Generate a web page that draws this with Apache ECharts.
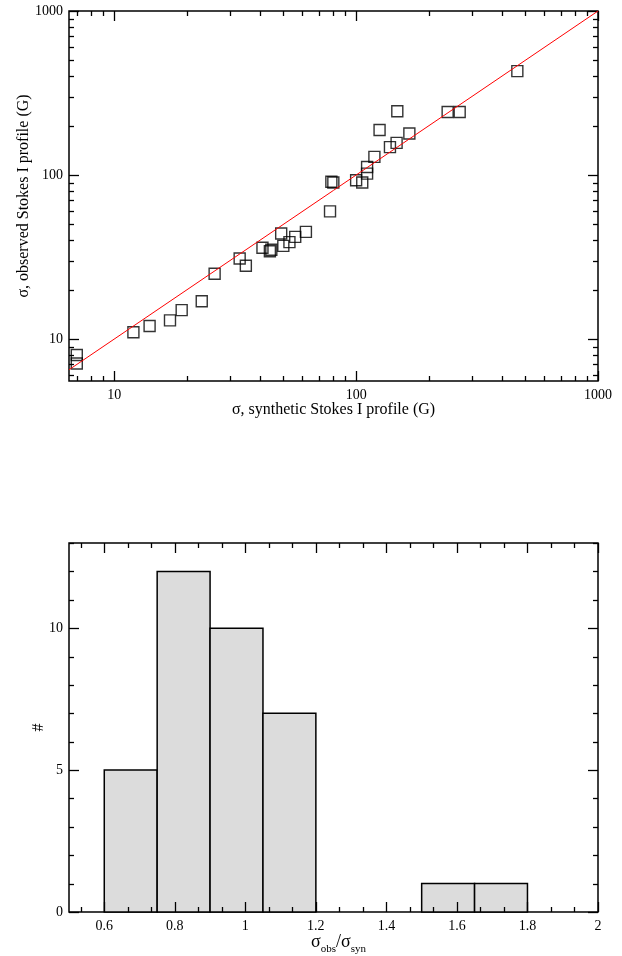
<!DOCTYPE html>
<html>
<head>
<meta charset="utf-8">
<script src="https://cdn.jsdelivr.net/npm/echarts@6/dist/echarts.min.js"></script>
<style>html,body{margin:0;padding:0;background:#fff}#c{width:622px;height:956px}</style>
</head>
<body>
<div id="c"></div>
<script>
// ---- Top panel data (log-log scatter) ----
const synSigma = [7.0, 7.0, 12.0, 14.0, 17.0, 19.0, 23.0, 26.0, 33.0, 35.0, 41.0, 44.0, 44.6, 49.0, 50.0, 53.0, 56.0, 62.0, 78.0, 79.0, 80.5, 100.0, 106.0, 111.0, 111.0, 119.0, 125.0, 138.0, 147.0, 148.0, 166.0, 239.0, 268.0, 464.0];
const obsSigma = [8.0, 7.1, 11.0, 12.0, 13.0, 15.0, 17.0, 25.0, 31.0, 28.0, 36.0, 34.3, 35.0, 44.0, 37.0, 39.0, 42.0, 45.0, 60.0, 91.0, 90.0, 93.0, 90.0, 102.0, 112.0, 129.0, 188.0, 148.0, 157.0, 245.0, 179.0, 242.0, 242.0, 430.0];
const identityLine = [6.5, 1000];
const topXRange = [6.5, 1000];
const topYRange = [5.55, 1000];
const topTickLabels = [10, 100, 1000];
const topXTicks = [7, 8, 9, 10, 20, 30, 40, 50, 60, 70, 80, 90, 100, 200, 300, 400, 500, 600, 700, 800, 900, 1000];
const topYTicks = [6, 7, 8, 9, 10, 20, 30, 40, 50, 60, 70, 80, 90, 100, 200, 300, 400, 500, 600, 700, 800, 900, 1000];

// ---- Bottom panel data (histogram) ----
const binLeft  = [0.6, 0.75, 0.9, 1.05, 1.5, 1.65];
const binRight = [0.75, 0.9, 1.05, 1.2, 1.65, 1.8];
const binCount = [5, 12, 10, 7, 1, 1];
const histXRange = [0.5, 2];
const histYRange = [0, 13];
const histXLabels = [0.6, 0.8, 1, 1.2, 1.4, 1.6, 1.8, 2];
const histYLabels = [0, 5, 10];

const FONT = '"Liberation Serif", "DejaVu Serif", serif';
const isPow10 = v => topTickLabels.some(t => Math.abs(v - t) < 1e-6 * t);
function near(v, arr) { return arr.some(t => Math.abs(v - t) < 1e-6); }

// tick data (axis decoration)
const topXTickData = topXTicks.map(v => [v, topYRange[0], isPow10(v) ? 1 : 0]);
const topYTickData = topYTicks.map(v => [topXRange[0], v, isPow10(v) ? 1 : 0]);
const histXTickData = [];
for (let i = -1; i <= 21; i++) {
  const v = 0.6 + i * 0.2 / 3;
  if (v < histXRange[0] - 1e-9 || v > histXRange[1] + 1e-9) continue;
  histXTickData.push([v, 0, (i % 3 === 0) ? 1 : 0]);
}
const histYTickData = [];
for (let v = 0; v <= 13; v++) histYTickData.push([histXRange[0], v, (v % 5 === 0) ? 1 : 0]);

const tickStyle = { stroke: '#000', lineWidth: 1.3 };

function xTickRender(params, api) {
  const cs = params.coordSys;
  const p = api.coord([api.value(0), api.value(1)]);
  const x = Math.round(p[0]) + 0.5;
  const len = api.value(2) ? 10 : 5;
  const b = cs.y + cs.height, t = cs.y;
  return { type: 'group', children: [
    { type: 'line', shape: { x1: x, y1: b, x2: x, y2: b - len }, style: tickStyle },
    { type: 'line', shape: { x1: x, y1: t, x2: x, y2: t + len }, style: tickStyle }
  ]};
}
function yTickRender(params, api) {
  const cs = params.coordSys;
  const p = api.coord([api.value(0), api.value(1)]);
  const y = Math.round(p[1]) + 0.5;
  const len = api.value(2) ? 10 : 5;
  const l = cs.x, r = cs.x + cs.width;
  return { type: 'group', children: [
    { type: 'line', shape: { x1: l, y1: y, x2: l + len, y2: y }, style: tickStyle },
    { type: 'line', shape: { x1: r, y1: y, x2: r - len, y2: y }, style: tickStyle }
  ]};
}

const axisCommon = {
  splitLine: { show: false },
  axisTick: { show: false },
  axisLine: { show: false },
  nameLocation: 'middle',
  nameMoveOverlap: false,
  nameTextStyle: { fontFamily: FONT, fontSize: 16, color: '#000' }
};

const chart = echarts.init(document.getElementById('c'), null, { renderer: 'canvas' });
chart.setOption({
  animation: false,
  backgroundColor: '#fff',
  grid: [
    { left: 69, top: 11, width: 529, height: 370, show: true, borderColor: '#000', borderWidth: 1.5, backgroundColor: 'transparent' },
    { left: 69, top: 543, width: 529, height: 370, show: true, borderColor: '#000', borderWidth: 1.5, backgroundColor: 'transparent' }
  ],
  xAxis: [
    Object.assign({}, axisCommon, {
      type: 'log', logBase: 10, gridIndex: 0, min: topXRange[0], max: topXRange[1],
      name: 'σ, synthetic Stokes I profile (G)', nameGap: 21,
      axisLabel: { fontFamily: FONT, fontSize: 14, color: '#000', margin: 7,
        formatter: v => isPow10(v) ? String(Math.round(v)) : '' }
    }),
    Object.assign({}, axisCommon, {
      type: 'value', gridIndex: 1, min: histXRange[0], max: histXRange[1], interval: 0.1,
      name: '{s|σ}{sub|obs}{s|/σ}{sub|syn}', nameGap: 21,
      nameTextStyle: { fontFamily: FONT, color: '#000', padding: [0, 0, 0, 10],
        rich: {
          s: { fontFamily: FONT, fontSize: 18, color: '#000', lineHeight: 22, verticalAlign: 'top' },
          sub: { fontFamily: FONT, fontSize: 11, color: '#000', lineHeight: 22, verticalAlign: 'bottom' }
        } },
      axisLabel: { fontFamily: FONT, fontSize: 14, color: '#000', margin: 7,
        formatter: v => near(v, histXLabels) ? String(Math.round(v * 10) / 10) : '' }
    })
  ],
  yAxis: [
    Object.assign({}, axisCommon, {
      type: 'log', logBase: 10, gridIndex: 0, min: topYRange[0], max: topYRange[1],
      name: 'σ, observed Stokes I profile (G)', nameGap: 37,
      axisLabel: { fontFamily: FONT, fontSize: 14, color: '#000', margin: 6,
        formatter: v => isPow10(v) ? String(Math.round(v)) : '' }
    }),
    Object.assign({}, axisCommon, {
      type: 'value', gridIndex: 1, min: histYRange[0], max: histYRange[1], interval: 1,
      name: '#', nameGap: 22,
      axisLabel: { fontFamily: FONT, fontSize: 14, color: '#000', margin: 6,
        formatter: v => near(v, histYLabels) ? String(v) : '' }
    })
  ],
  series: [
    {
      type: 'line', xAxisIndex: 0, yAxisIndex: 0, symbol: 'none', silent: true,
      data: identityLine.map(v => [v, v]),
      lineStyle: { color: '#ff0000', width: 1 }
    },
    {
      type: 'scatter', xAxisIndex: 0, yAxisIndex: 0, symbol: 'rect', symbolSize: 11,
      data: synSigma.map((x, i) => [x, obsSigma[i]]),
      itemStyle: { color: 'rgba(0,0,0,0)', borderColor: '#000', borderWidth: 1.4 }
    },
    { type: 'custom', xAxisIndex: 0, yAxisIndex: 0, clip: false, silent: true, data: topXTickData, encode: { x: 0, y: 1 }, renderItem: xTickRender },
    { type: 'custom', xAxisIndex: 0, yAxisIndex: 0, clip: false, silent: true, data: topYTickData, encode: { x: 0, y: 1 }, renderItem: yTickRender },
    {
      type: 'custom', xAxisIndex: 1, yAxisIndex: 1, clip: false, silent: true,
      data: binLeft.map((l, i) => [l, binRight[i], binCount[i]]),
      encode: { x: [0, 1], y: 2 },
      renderItem: (params, api) => {
        const p0 = api.coord([api.value(0), 0]);
        const p1 = api.coord([api.value(1), api.value(2)]);
        return { type: 'rect', shape: { x: p0[0], y: p1[1], width: p1[0] - p0[0], height: p0[1] - p1[1] },
          style: { fill: '#dcdcdc', stroke: '#000', lineWidth: 1.5 } };
      }
    },
    { type: 'custom', xAxisIndex: 1, yAxisIndex: 1, clip: false, silent: true, data: histXTickData, encode: { x: 0, y: 1 }, renderItem: xTickRender, z: 5 },
    { type: 'custom', xAxisIndex: 1, yAxisIndex: 1, clip: false, silent: true, data: histYTickData, encode: { x: 0, y: 1 }, renderItem: yTickRender, z: 5 }
  ]
});
</script>
</body>
</html>
